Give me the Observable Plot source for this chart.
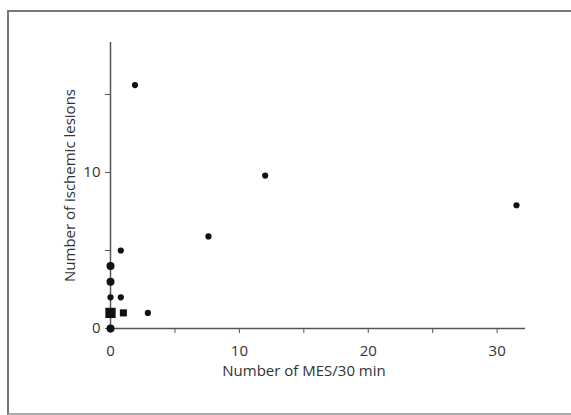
<!DOCTYPE html>
<html>
<head>
<meta charset="utf-8">
<script src="https://cdn.jsdelivr.net/npm/d3@7"></script>
<script src="https://cdn.jsdelivr.net/npm/@observablehq/plot@0.6"></script>
<style>
  html, body { margin: 0; padding: 0; background: #fff; overflow: hidden; }
  #wrap { position: relative; width: 571px; height: 415px; overflow: hidden; }
  #frame { position: absolute; left: 7px; top: 10px; width: 700px; height: 401px;
           border-left: 2px solid #777; border-top: 2px solid #777; border-bottom: 2px solid #aaa; border-right: none; }
  #chart { position: absolute; left: 0; top: 0; }
</style>
</head>
<body>
<div id="wrap"><div id="frame"></div><div id="chart"></div></div>
<script>
// Data
const mesCount = [1.9, 12.0, 7.6, 31.5, 0.8, 0.8, 2.9, 1.0, 0, 0, 0, 0, 0];
const lesions  = [15.6, 9.8, 5.9, 7.9, 5, 2, 1, 1, 4, 3, 2, 1, 0];
const overlap  = [1, 1, 1, 1, 1, 1, 1, 2, 2, 2, 1, 4, 2];
const shapes   = ["circle","circle","circle","circle","circle","circle","circle","square","circle","circle","circle","square","circle"];
const xTicks = [0, 5, 10, 15, 20, 25, 30];
const xLabeled = [0, 10, 20, 30];
const yTicks = [0, 5, 10, 15];
const yLabeled = [0, 10];
const xTitle = "Number of MES/30 min";
const yTitle = "Number of ischemic lesions";

const data = mesCount.map((x, i) => ({x, y: lesions[i], n: overlap[i], s: shapes[i]}));

const font = "'Open Sans', 'Noto Sans', sans-serif";
const axisColor = "#555";

const chart = Plot.plot({
  width: 571,
  height: 415,
  marginLeft: 110,
  marginRight: 46,
  marginTop: 42,
  marginBottom: 87,
  style: {fontFamily: font, fontSize: "15px", color: "#333", background: "transparent"},
  x: {domain: [0, 32.2], axis: null},
  y: {domain: [0, 18.33], axis: null},
  r: {type: "identity"},
  marks: [
    Plot.ruleY([0], {stroke: axisColor, strokeWidth: 1.5}),
    Plot.ruleX([0], {stroke: axisColor, strokeWidth: 1.5}),
    Plot.axisX({ticks: xTicks, tickSize: 5, tickPadding: 12, stroke: axisColor, label: null,
      tickFormat: d => xLabeled.includes(d) ? d : "", fontSize: 15, fill: "#333"}),
    Plot.axisY({ticks: yTicks, tickSize: 5, tickPadding: 5, stroke: axisColor, label: null,
      tickFormat: d => yLabeled.includes(d) ? d : "", fontSize: 15, fill: "#333"}),
    Plot.text([xTitle], {frameAnchor: "bottom", textAnchor: "middle", dx: -14, dy: 47, fontSize: 15, fill: "#333"}),
    Plot.text([yTitle], {frameAnchor: "left", textAnchor: "middle", rotate: -90, dx: -40, fontSize: 15, fill: "#333"}),
    Plot.dot(data, {x: "x", y: "y", r: d => 2.2 + d.n * 0.9, symbol: "s", fill: "#111", stroke: "none"})
  ]
});
document.getElementById("chart").appendChild(chart);
</script>
</body>
</html>
